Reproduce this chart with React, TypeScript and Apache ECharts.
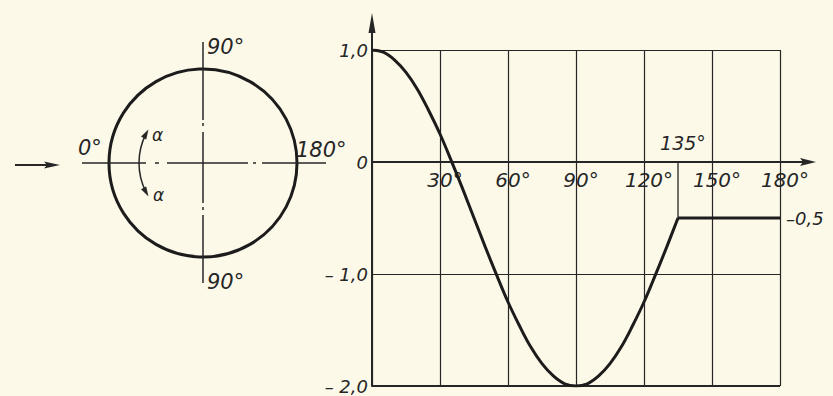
import React, { useEffect, useRef } from "react";
import * as echarts from "echarts";

// ---- data ----
const angles = [0, 5, 10, 15, 20, 25, 30, 35, 40, 45, 50, 55, 60, 65, 70, 75, 80, 85, 90, 95, 100, 105, 110, 115, 120, 125, 130, 135];
const pressure = [1.0, 0.98, 0.91, 0.8, 0.65, 0.46, 0.25, 0.01, -0.24, -0.5, -0.76, -1.01, -1.25, -1.46, -1.65, -1.8, -1.91, -1.98, -2.0, -1.98, -1.91, -1.8, -1.65, -1.46, -1.25, -1.01, -0.76, -0.5];
const flatAngles = [135, 180];
const flatValues = [-0.5, -0.5];
const markerAngle = 135;
const markerValues = [0, -0.5];
const markerLabel = "135°";
const xTicks = [0, 30, 60, 90, 120, 150, 180];
const xTickLabels = ["", "30°", "60°", "90°", "120°", "150°", "180°"];
const yTicks = [-2, -1, 0, 1];
const yTickLabels = ["– 2,0", "– 1,0", "0", "1,0"];

const INK = "#262626";
const BG = "#fcf9e9";
const FONT = '"DejaVu Sans", sans-serif';

export default function App() {
  const ref = useRef<HTMLDivElement>(null);
  useEffect(() => {
    if (!ref.current) return;
    const chart = echarts.init(ref.current, undefined, { renderer: "svg" });
    chart.setOption({
      animation: false,
      backgroundColor: BG,
      grid: { left: 372, top: 50, width: 408, height: 336, outerBoundsMode: "none", containLabel: false },
      xAxis: {
        type: "value",
        min: 0,
        max: 180,
        interval: 30,
        position: "bottom",
        offset: 0,
        axisLine: { show: true, onZero: false, lineStyle: { color: INK, width: 2 } },
        axisTick: { show: false },
        axisLabel: {
          margin: 8,
          color: INK,
          fontFamily: FONT,
          fontStyle: "italic",
          fontSize: 20,
          padding: [0, 0, 0, 10],
          formatter: (v: number) => xTickLabels[xTicks.indexOf(v)] ?? "",
        },
        splitLine: { show: true, lineStyle: { color: INK, width: 1.2 } },
      },
      yAxis: {
        type: "value",
        min: -2,
        max: 1,
        interval: 1,
        axisLine: { show: true, lineStyle: { color: INK, width: 2 } },
        axisTick: { show: false },
        axisLabel: {
          margin: 4,
          color: INK,
          fontFamily: FONT,
          fontStyle: "italic",
          fontSize: 18,
          formatter: (v: number) => yTickLabels[yTicks.indexOf(v)] ?? "",
        },
        splitLine: { show: true, lineStyle: { color: INK, width: 1.2 } },
      },
      series: [
        {
          type: "line",
          data: angles.map((a, i) => [a, pressure[i]]),
          smooth: 0.4,
          symbol: "none",
          lineStyle: { color: "#1c1c1c", width: 3 },
        },
        {
          type: "line",
          data: flatAngles.map((a, i) => [a, flatValues[i]]),
          symbol: "none",
          lineStyle: { color: "#1c1c1c", width: 3 },
          endLabel: {
            show: true,
            formatter: "–0,5",
            distance: 6,
            color: INK,
            fontFamily: FONT,
            fontStyle: "italic",
            fontSize: 18,
          },
        },
        {
          type: "line",
          data: markerValues.map((v) => [markerAngle, v]),
          symbol: "none",
          lineStyle: { color: INK, width: 1.3 },
        },
      ],
    });

    const zeroPt = chart.convertToPixel({ gridIndex: 0 }, [180, 0]) as number[];
    const yTop = chart.convertToPixel({ gridIndex: 0 }, [0, 1]) as number[];
    const yBottom = chart.convertToPixel({ gridIndex: 0 }, [0, -2]) as number[];
    const mk = chart.convertToPixel({ gridIndex: 0 }, [markerAngle, markerValues[0]]) as number[];
    // put the x axis (line and labels) on the zero line
    chart.setOption({ xAxis: { offset: -(yBottom[1] - zeroPt[1]) } });

    const txt = (text: string, x: number, y: number, size = 20, align = "left") => ({
      type: "text",
      style: {
        text,
        x,
        y,
        fill: INK,
        font: `italic ${size}px ${FONT}`,
        textAlign: align,
        textVerticalAlign: "middle",
      },
    });
    const seg = (x1: number, y1: number, x2: number, y2: number, w = 1.5) => ({
      type: "line",
      shape: { x1, y1, x2, y2 },
      style: { stroke: INK, lineWidth: w },
    });

    const cx = 203, cy = 163, r = 94;
    const ar = 64;
    chart.setOption({
      graphic: [
        // bottom border of the plot
        seg(yBottom[0], yBottom[1], zeroPt[0], yBottom[1], 2),
        // axis arrows
        seg(zeroPt[0], zeroPt[1], zeroPt[0] + 25, zeroPt[1], 2),
        { type: "polygon", shape: { points: [[zeroPt[0] + 36, zeroPt[1]], [zeroPt[0] + 20, zeroPt[1] - 4], [zeroPt[0] + 23, zeroPt[1]], [zeroPt[0] + 20, zeroPt[1] + 4]] }, style: { fill: INK } },
        seg(yTop[0], yTop[1], yTop[0], yTop[1] - 25, 2),
        { type: "polygon", shape: { points: [[yTop[0], yTop[1] - 37], [yTop[0] - 3.5, yTop[1] - 17], [yTop[0] + 3.5, yTop[1] - 17]] }, style: { fill: INK } },
        // 135° label
        txt(markerLabel, mk[0] + 5, mk[1] - 19, 19, "center"),
        // cylinder diagram
        { type: "circle", shape: { cx, cy, r }, style: { stroke: "#1c1c1c", lineWidth: 3, fill: "none" } },
        // vertical center line (dash-dot)
        seg(cx, 42, cx, 120),
        seg(cx, 123, cx, 126),
        seg(cx, 132, cx, 203),
        seg(cx, 207, cx, 210),
        seg(cx, 215, cx, 283),
        // horizontal center line (dash-dot)
        seg(82, cy, 146, cy),
        seg(155, cy, 159, cy),
        seg(167, cy, 248, cy),
        seg(253, cy, 256, cy),
        seg(262, cy, 326, cy),
        // flow arrow
        seg(15, 165, 50, 165, 2),
        { type: "polygon", shape: { points: [[60, 165], [44, 161.5], [47, 165], [44, 168.5]] }, style: { fill: INK } },
        // alpha arc
        {
          type: "arc",
          shape: { cx, cy, r: ar, startAngle: (153 * Math.PI) / 180, endAngle: (207 * Math.PI) / 180, clockwise: true },
          style: { stroke: INK, lineWidth: 1.5, fill: "none" },
        },
        { type: "polygon", shape: { points: [[148.5, 129.4], [146.2, 139.5], [141.0, 136.6]] }, style: { fill: INK } },
        { type: "polygon", shape: { points: [[148.5, 196.6], [146.2, 186.5], [141.0, 189.3]] }, style: { fill: INK } },
        txt("α", 152, 135, 17),
        txt("α", 153, 195, 17),
        // labels
        txt("90°", 207, 47, 21),
        txt("90°", 207, 282, 21),
        txt("0°", 78, 148, 21),
        txt("180°", 296, 150, 21),
      ],
    });

    return () => chart.dispose();
  }, []);

  return (
    <div
      ref={ref}
      style={{ position: "absolute", left: 0, top: 0, width: 833, height: 396, background: BG }}
    />
  );
}
